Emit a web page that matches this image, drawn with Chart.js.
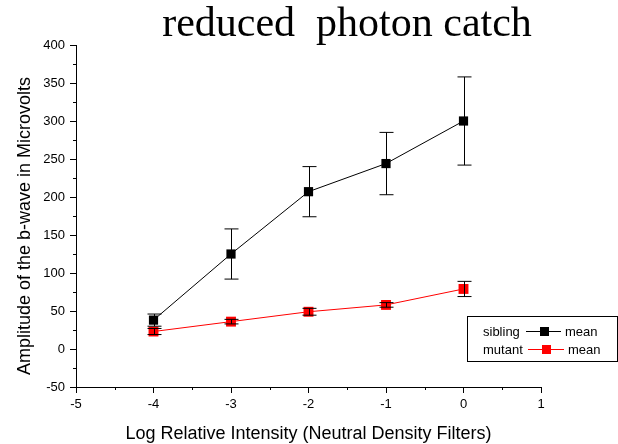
<!DOCTYPE html>
<html>
<head>
<meta charset="utf-8">
<script src="https://cdn.jsdelivr.net/npm/chart.js@4/dist/chart.umd.min.js"></script>
<style>
html,body{margin:0;padding:0;background:#fff;}
canvas{display:block;}
</style>
</head>
<body>
<canvas id="c" width="618" height="444"></canvas>
<script>
// ---- data ----
const xValues = [-4, -3, -2, -1, 0];
const siblingMean = [38, 125, 207, 244, 300];
const siblingErr = [8, 33, 33, 41, 58];
const mutantMean = [23, 36, 49, 58, 79];
const mutantErr = [4, 3, 4.5, 3, 10];
const xRange = [-5, 1];
const yRange = [-50, 400];
const titleText = 'reduced  photon catch';
const xTitle = 'Log Relative Intensity (Neutral Density Filters)';
const yTitle = 'Amplitude of the b-wave in Microvolts';
const legendRows = [['sibling', 'mean'], ['mutant', 'mean']];

const SANS = "'Liberation Sans', Arial, sans-serif";
const SERIF = "'Liberation Serif', 'Times New Roman', serif";

const errors = [siblingErr, mutantErr];
const means = [siblingMean, mutantMean];

const decor = {
  id: 'decor',
  afterDatasetsDraw(chart) {
    const ctx = chart.ctx;
    const ys = chart.scales.y;
    ctx.save();
    ctx.strokeStyle = '#000';
    ctx.lineWidth = 1;
    for (let d = 0; d < 2; d++) {
      const meta = chart.getDatasetMeta(d);
      meta.data.forEach((pt, j) => {
        const x = Math.round(pt.x) + 0.5;
        const t = ys.getPixelForValue(means[d][j] + errors[d][j]);
        const b = ys.getPixelForValue(means[d][j] - errors[d][j]);
        ctx.beginPath();
        ctx.moveTo(x, t); ctx.lineTo(x, b);
        ctx.moveTo(x - 7, t); ctx.lineTo(x + 7, t);
        ctx.moveTo(x - 7, b); ctx.lineTo(x + 7, b);
        ctx.stroke();
      });
    }
    ctx.restore();
  },
  afterDraw(chart) {
    const ctx = chart.ctx;
    const ys = chart.scales.y, xs = chart.scales.x;
    const area = chart.chartArea;
    ctx.save();
    // minor ticks
    ctx.strokeStyle = '#000';
    ctx.lineWidth = 1;
    ctx.beginPath();
    for (let v = yRange[0] + 25; v < yRange[1]; v += 50) {
      const y = Math.round(ys.getPixelForValue(v)) + 0.5;
      ctx.moveTo(area.left - 3, y); ctx.lineTo(area.left, y);
    }
    for (let v = xRange[0] + 0.5; v < xRange[1]; v += 1) {
      const x = Math.round(xs.getPixelForValue(v)) + 0.5;
      ctx.moveTo(x, area.bottom); ctx.lineTo(x, area.bottom + 3);
    }
    ctx.stroke();
    // title
    ctx.fillStyle = '#000';
    ctx.font = '42px ' + SERIF;
    ctx.textAlign = 'center';
    ctx.textBaseline = 'alphabetic';
    ctx.fillText(titleText, 347, 36);
    // x title
    ctx.font = '18px ' + SANS;
    ctx.fillText(xTitle, (area.left + area.right) / 2, 439);
    // y title
    ctx.save();
    ctx.translate(30, 226);
    ctx.rotate(-Math.PI / 2);
    ctx.fillText(yTitle, 0, 0);
    ctx.restore();
    // legend
    ctx.strokeStyle = '#000';
    ctx.lineWidth = 1;
    ctx.strokeRect(467.5, 316.5, 150, 45);
    ctx.font = '13px ' + SANS;
    ctx.textAlign = 'left';
    ctx.textBaseline = 'middle';
    const colors = ['#000000', '#ff0000'];
    const rowsY = [331, 349];
    const lineX = [[526, 561], [528, 564]];
    const meanX = [565, 568];
    legendRows.forEach((r, i) => {
      const y = rowsY[i];
      ctx.fillStyle = '#000';
      ctx.fillText(r[0], 483, y + 1);
      ctx.fillText(r[1], meanX[i], y + 1);
      ctx.strokeStyle = colors[i];
      ctx.beginPath();
      ctx.moveTo(lineX[i][0], y + 0.5); ctx.lineTo(lineX[i][1], y + 0.5);
      ctx.stroke();
      const cx = (lineX[i][0] + lineX[i][1]) / 2;
      ctx.fillStyle = colors[i];
      ctx.fillRect(Math.round(cx - 4), y - 4, 9, 9);
    });
    ctx.restore();
  }
};

const mk = (arr) => xValues.map((x, i) => ({x: x, y: arr[i]}));

new Chart(document.getElementById('c'), {
  type: 'scatter',
  data: {
    datasets: [
      {
        label: 'sibling',
        data: mk(siblingMean),
        showLine: true,
        borderColor: '#000000',
        backgroundColor: '#000000',
        borderWidth: 1,
        pointStyle: 'rect',
        pointRadius: 6.5,
        pointBorderWidth: 0,
        pointBackgroundColor: '#000000'
      },
      {
        label: 'mutant',
        data: mk(mutantMean),
        showLine: true,
        borderColor: '#ff0000',
        backgroundColor: '#ff0000',
        borderWidth: 1,
        pointStyle: 'rect',
        pointRadius: 7,
        pointBorderWidth: 0,
        pointBackgroundColor: '#ff0000'
      }
    ]
  },
  options: {
    responsive: false,
    animation: false,
    devicePixelRatio: 1,
    layout: {padding: {left: 0, right: 77, top: 45, bottom: 0}},
    plugins: {legend: {display: false}, tooltip: {enabled: false}, title: {display: false}},
    scales: {
      x: {
        type: 'linear',
        min: xRange[0], max: xRange[1],
        ticks: {stepSize: 1, color: '#000', font: {size: 13, family: SANS}, padding: 4, maxRotation: 0,
          callback: (v) => String(v)},
        grid: {display: true, drawOnChartArea: false, drawTicks: true, tickLength: 6, color: '#000'},
        border: {display: true, color: '#000', width: 1},
        afterFit: (s) => { s.height = 57; }
      },
      y: {
        type: 'linear',
        min: yRange[0], max: yRange[1],
        ticks: {stepSize: 50, color: '#000', font: {size: 13, family: SANS}, padding: 5,
          callback: (v) => String(v)},
        grid: {display: true, drawOnChartArea: false, drawTicks: true, tickLength: 6, color: '#000'},
        border: {display: true, color: '#000', width: 1},
        afterFit: (s) => { s.width = 76; }
      }
    }
  },
  plugins: [decor]
});
</script>
</body>
</html>
